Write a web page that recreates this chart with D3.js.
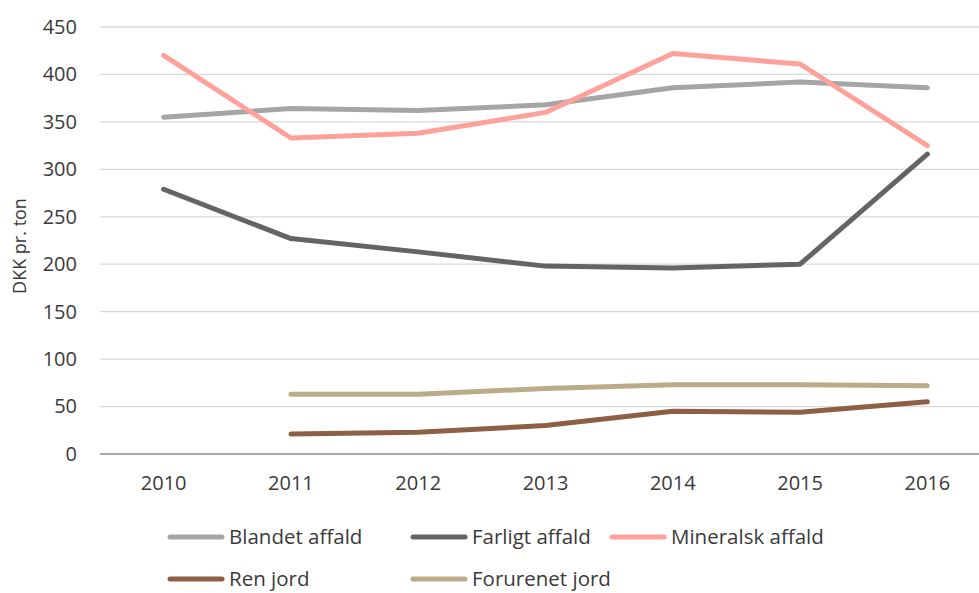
<!DOCTYPE html>
<html>
<head>
<meta charset="utf-8">
<script src="https://cdnjs.cloudflare.com/ajax/libs/d3/7.8.5/d3.min.js"></script>
<style>
  body { margin: 0; background: #fff; }
  text { font-family: "Open Sans", sans-serif; fill: #3a3a3a; }
</style>
</head>
<body>
<div class="chart"></div>
<script>
// years on the x axis
var years = ["2010", "2011", "2012", "2013", "2014", "2015", "2016"];

// DKK pr. ton (null = no value)
var blandet = [355, 364, 362, 368, 386, 392, 386];
var farligt = [279, 227, 213, 198, 196, 200, 316];
var mineralsk = [420, 333, 338, 360, 422, 411, 325];
var renJord = [null, 21, 23, 30, 45, 44, 55];
var forurenet = [null, 63, 63, 69, 73, 73, 72];

var seriesNames = ["Blandet affald", "Farligt affald", "Mineralsk affald", "Ren jord", "Forurenet jord"];
var seriesColors = ["#a5a5a5", "#646464", "#ffa19b", "#8f5f45", "#bcab88"];
var yTicks = [0, 50, 100, 150, 200, 250, 300, 350, 400, 450];

var allSeries = [blandet, farligt, mineralsk, renJord, forurenet];

var svgWidth = 979;
var svgHeight = 593;

var margin = { top: 27, right: 0, bottom: 139, left: 100 };
var height = svgHeight - margin.top - margin.bottom;
// the plot runs a bit past the right edge of the picture
var width = 891;

var svg = d3.select(".chart")
  .append("svg")
  .attr("width", svgWidth)
  .attr("height", svgHeight);

var chartGroup = svg.append("g")
  .attr("transform", `translate(${margin.left}, ${margin.top})`);

var xScale = d3.scaleBand()
  .domain(years)
  .range([0, width]);

var yScale = d3.scaleLinear()
  .domain([0, 450])
  .range([height, 0]);

// gridlines
chartGroup.append("g")
  .selectAll("line")
  .data(yTicks.slice(1))
  .enter()
  .append("line")
  .attr("x1", 0)
  .attr("x2", svgWidth)
  .attr("y1", d => yScale(d))
  .attr("y2", d => yScale(d))
  .attr("stroke", "#d9d9d9")
  .attr("stroke-width", 1.3);

// y axis (labels only)
var leftAxis = d3.axisLeft(yScale).tickValues(yTicks).tickSize(0).tickPadding(23);
var yAxis = chartGroup.append("g").call(leftAxis);
yAxis.select(".domain").remove();
yAxis.selectAll("text").style("font-size", "20px").attr("fill", "#3a3a3a");

// x axis
var bottomAxis = d3.axisBottom(xScale).tickSize(0).tickPadding(22);
var xAxis = chartGroup.append("g")
  .attr("transform", `translate(0, ${height})`)
  .call(bottomAxis);
xAxis.select(".domain")
  .attr("d", `M0,0H${svgWidth}`)
  .attr("stroke", "#8c8c8c")
  .attr("stroke-width", 1.5);
xAxis.selectAll("text").style("font-size", "20px").attr("fill", "#3a3a3a");

// y axis title
chartGroup.append("text")
  .attr("text-anchor", "middle")
  .attr("transform", `translate(${20 - margin.left}, ${246 - margin.top}) rotate(-90)`)
  .attr("dy", "0.35em")
  .style("font-size", "18px")
  .text("DKK pr. ton");

// lines
var line = d3.line()
  .defined(d => d != null)
  .x((d, i) => xScale(years[i]) + xScale.bandwidth() / 2)
  .y(d => yScale(d));

chartGroup.selectAll(".series")
  .data(allSeries)
  .enter()
  .append("path")
  .attr("class", "series")
  .attr("d", d => line(d))
  .attr("fill", "none")
  .attr("stroke", (d, i) => seriesColors[i])
  .attr("stroke-width", 5)
  .attr("stroke-linecap", "round")
  .attr("stroke-linejoin", "round");

// legend
var legendPos = [[170, 537], [413, 537], [612, 537], [170, 579], [413, 579]];

var legend = svg.selectAll(".legend")
  .data(seriesNames)
  .enter()
  .append("g")
  .attr("class", "legend")
  .attr("transform", (d, i) => `translate(${legendPos[i][0]}, ${legendPos[i][1]})`);

legend.append("line")
  .attr("x1", 0)
  .attr("x2", 52)
  .attr("stroke", (d, i) => seriesColors[i])
  .attr("stroke-width", 5)
  .attr("stroke-linecap", "round");

legend.append("text")
  .attr("x", 59)
  .attr("dy", "0.35em")
  .style("font-size", "20.5px")
  .text(d => d);
</script>
</body>
</html>
